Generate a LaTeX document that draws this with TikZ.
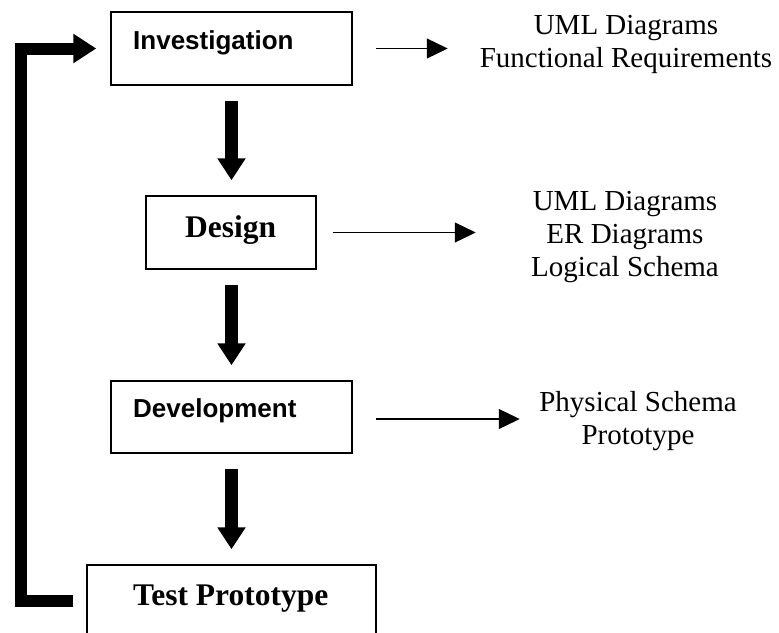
\documentclass[tikz,border=0pt]{standalone}
\usepackage{fontspec}
\setmainfont{Liberation Serif}
\setsansfont{Liberation Sans}
\usetikzlibrary{arrows.meta}
\begin{document}
\begin{tikzpicture}[x=1pt,y=-1pt,
  stagebox/.style={draw,line width=1.5pt,inner sep=0pt,minimum width=#1},
  sanslabel/.style={inner sep=0pt,anchor=base west,font=\sffamily\bfseries\fontsize{26}{30}\selectfont},
  seriflabel/.style={inner sep=0pt,anchor=base west,font=\bfseries\fontsize{31.5}{36}\selectfont},
  outputs/.style={inner sep=0pt,anchor=base,align=center,font=\fontsize{29}{33}\selectfont},
  flow/.style={line width=13pt,-{Triangle[width=27pt,length=22pt]},shorten <=15pt,shorten >=15pt},
  produces/.style={line width=1.3pt,-{Triangle[width=20pt,length=21pt]}},
  feedback/.style={line width=12pt,line join=miter,-{Triangle[width=28pt,length=23pt]}}]
\useasboundingbox (0,0) rectangle (779,632);
\clip (0,0) rectangle (779,632);

% stage boxes
\node[stagebox=241pt,minimum height=73pt] (inv) at (231.5,48.5) {};
\node[stagebox=170pt,minimum height=73pt] (des) at (231,232.5) {};
\node[stagebox=241pt,minimum height=72pt] (dev) at (231.5,417) {};
\node[stagebox=289pt,minimum height=72pt] (tp)  at (231.5,601) {};

% stage names
\node[sanslabel]  (invtxt) at (133,49)  {Investigation};
\node[seriflabel] (destxt) at (185,237) {Design};
\node[sanslabel]  (devtxt) at (133,417) {Development};
\node[seriflabel] (tptxt)  at (133,605) {Test Prototype};

% deliverables of each stage (anchored at the baseline of the last line)
\node[outputs] (invout) at (626,67)  {UML Diagrams\\Functional Requirements};
\node[outputs] (desout) at (625,276) {UML Diagrams\\ER Diagrams\\Logical Schema};
\node[outputs] (devout) at (638,444) {Physical Schema\\Prototype};

% main flow between stages
\draw[flow] (inv.south -| 231.5,0) -- (des.north -| 231.5,0);
\draw[flow] (des.south -| 231.5,0) -- (dev.north -| 231.5,0);
\draw[flow] (dev.south -| 231.5,0) -- (tp.north -| 231.5,0);

% arrows to the deliverables
\draw[produces] ([xshift=23pt]inv.east) -- ++(72,0);
\draw[produces] ([xshift=16pt]des.east) -- ++(143,0);
\draw[produces] ([xshift=23pt,yshift=-2pt]dev.east) -- ++(144,0);

% loop back from testing to investigation
\coordinate (fbstart) at ([xshift=-13pt]tp.west);
\coordinate (fbend) at ([xshift=-14pt]inv.west);
\draw[feedback] (fbstart) -- (21,601) |- (fbend);
\end{tikzpicture}
\end{document}
